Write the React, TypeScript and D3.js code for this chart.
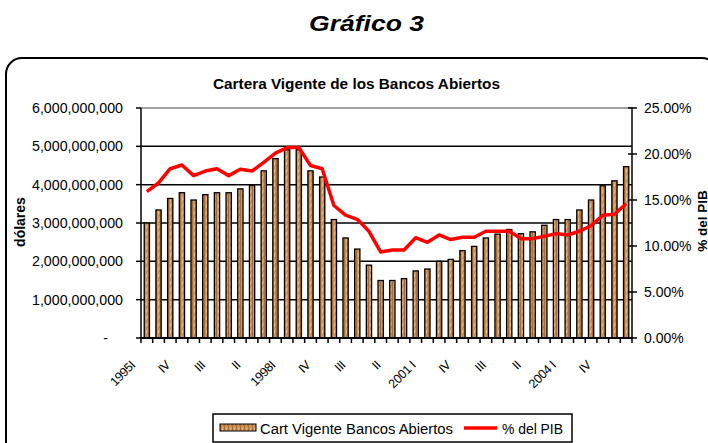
import React, { useEffect, useRef } from 'react';
import * as d3 from 'd3';

const categories = [
  '1995 I', '1995 II', '1995 III', '1995 IV',
  '1996 I', '1996 II', '1996 III', '1996 IV',
  '1997 I', '1997 II', '1997 III', '1997 IV',
  '1998 I', '1998 II', '1998 III', '1998 IV',
  '1999 I', '1999 II', '1999 III', '1999 IV',
  '2000 I', '2000 II', '2000 III', '2000 IV',
  '2001 I', '2001 II', '2001 III', '2001 IV',
  '2002 I', '2002 II', '2002 III', '2002 IV',
  '2003 I', '2003 II', '2003 III', '2003 IV',
  '2004 I', '2004 II', '2004 III', '2004 IV',
  '2005 I', '2005 II',
];

// Labels shown on the x axis (every third quarter)
const tickLabels = ['1995I', 'IV', 'III', 'II', '1998I', 'IV', 'III', 'II', '2001 I', 'IV', 'III', 'II', '2004 I', 'IV'];

// Cartera vigente (dólares)
const carteraValues = [
  3.0e9, 3.34e9, 3.64e9, 3.79e9, 3.6e9, 3.74e9, 3.79e9, 3.79e9, 3.89e9, 3.98e9,
  4.36e9, 4.68e9, 4.91e9, 4.91e9, 4.36e9, 4.2e9, 3.09e9, 2.61e9, 2.32e9, 1.9e9,
  1.5e9, 1.5e9, 1.55e9, 1.75e9, 1.8e9, 2.0e9, 2.05e9, 2.28e9, 2.39e9, 2.61e9,
  2.71e9, 2.83e9, 2.72e9, 2.77e9, 2.94e9, 3.09e9, 3.09e9, 3.34e9, 3.6e9, 3.97e9,
  4.1e9, 4.47e9,
];

// % del PIB
const pibValues = [
  0.159, 0.1685, 0.184, 0.188, 0.1765, 0.1815, 0.184, 0.1765, 0.1835, 0.1815,
  0.191, 0.201, 0.207, 0.207, 0.1875, 0.184, 0.144, 0.1335, 0.129, 0.116,
  0.0935, 0.0957, 0.0957, 0.109, 0.104, 0.112, 0.107, 0.1095, 0.1095, 0.116,
  0.116, 0.116, 0.108, 0.108, 0.1105, 0.1135, 0.112, 0.116, 0.122, 0.1335,
  0.1345, 0.146,
];

const leftTicks = [0, 1e9, 2e9, 3e9, 4e9, 5e9, 6e9];
const rightTicks = [0, 0.05, 0.1, 0.15, 0.2, 0.25];

const FONT = 'Liberation Sans, Arial, Helvetica, sans-serif';

export default function App() {
  const ref = useRef<SVGSVGElement>(null);

  useEffect(() => {
    const svg = d3.select(ref.current);
    svg.selectAll('*').remove();

    const W = 708, H = 443;
    const L = 141, R = 632, T = 108, B = 338;

    const defs = svg.append('defs');
    const pat = defs.append('pattern')
      .attr('id', 'wood')
      .attr('patternUnits', 'userSpaceOnUse')
      .attr('width', 4).attr('height', 7);
    pat.append('rect').attr('width', 4).attr('height', 7).attr('fill', '#cc9459');
    pat.append('rect').attr('x', 0).attr('y', 0).attr('width', 1).attr('height', 7).attr('fill', '#aa6e3a');
    pat.append('rect').attr('x', 2).attr('y', 1).attr('width', 1).attr('height', 4).attr('fill', '#e6b680');
    pat.append('rect').attr('x', 3).attr('y', 4).attr('width', 1).attr('height', 2).attr('fill', '#b87c46');

    svg.append('rect').attr('width', W).attr('height', H).attr('fill', '#ffffff');

    // Main title
    svg.append('text')
      .attr('x', 309).attr('y', 31)
      .attr('font-family', FONT).attr('font-size', 22)
      .attr('font-weight', 'bold').attr('font-style', 'italic')
      .attr('textLength', 115).attr('lengthAdjust', 'spacingAndGlyphs')
      .text('Gráfico 3');

    // Chart border
    svg.append('rect')
      .attr('x', 6).attr('y', 58).attr('width', 712).attr('height', 400)
      .attr('rx', 16).attr('ry', 16)
      .attr('fill', 'none').attr('stroke', '#000').attr('stroke-width', 2);

    // Chart title
    svg.append('text')
      .attr('x', 213).attr('y', 89)
      .attr('font-family', FONT).attr('font-size', 14).attr('font-weight', 'bold')
      .attr('textLength', 287).attr('lengthAdjust', 'spacingAndGlyphs')
      .text('Cartera Vigente de los Bancos Abiertos');

    const x = d3.scaleBand<string>().domain(categories).range([L, R]).paddingInner(0.55).paddingOuter(0.275);
    const yL = d3.scaleLinear().domain([0, 6e9]).range([B, T]);
    const yR = d3.scaleLinear().domain([0, 0.25]).range([B, T]);
    const step = x.step();

    // Gridlines
    svg.append('g').selectAll('line')
      .data(leftTicks.filter(d => d > 0 && d < 6e9))
      .join('line')
      .attr('x1', L).attr('x2', R)
      .attr('y1', d => yL(d)).attr('y2', d => yL(d))
      .attr('stroke', '#000').attr('stroke-width', 1.5);
    svg.append('line')
      .attr('x1', L).attr('x2', R).attr('y1', T).attr('y2', T)
      .attr('stroke', '#808080').attr('stroke-width', 1.5);

    // Bars
    svg.append('g').selectAll('rect')
      .data(carteraValues)
      .join('rect')
      .attr('x', (d, i) => x(categories[i])!)
      .attr('width', x.bandwidth())
      .attr('y', d => yL(d))
      .attr('height', d => B - yL(d))
      .attr('fill', 'url(#wood)')
      .attr('stroke', '#000').attr('stroke-width', 1.3);

    // Line
    const line = d3.line<number>()
      .x((d, i) => x(categories[i])! + x.bandwidth() / 2)
      .y(d => yR(d));
    svg.append('path')
      .datum(pibValues)
      .attr('d', line)
      .attr('fill', 'none')
      .attr('stroke', '#ff0000').attr('stroke-width', 3.5)
      .attr('stroke-linejoin', 'round');

    // Axes lines
    svg.append('line').attr('x1', L).attr('x2', L).attr('y1', T).attr('y2', B + 1)
      .attr('stroke', '#000').attr('stroke-width', 1.5);
    svg.append('line').attr('x1', R).attr('x2', R).attr('y1', T - 1).attr('y2', B + 1)
      .attr('stroke', '#000').attr('stroke-width', 1.5);
    svg.append('line').attr('x1', L - 1).attr('x2', R + 1).attr('y1', B).attr('y2', B)
      .attr('stroke', '#000').attr('stroke-width', 2);

    // Left ticks and labels
    const fmt = d3.format(',');
    svg.append('g').selectAll('line')
      .data(leftTicks).join('line')
      .attr('x1', L - 5).attr('x2', L)
      .attr('y1', d => yL(d)).attr('y2', d => yL(d))
      .attr('stroke', '#000').attr('stroke-width', 1.5);
    const lt = svg.append('g').selectAll('text')
      .data(leftTicks).join('text')
      .attr('x', d => (d === 0 ? 108 : 123))
      .attr('y', d => yL(d) + 5)
      .attr('text-anchor', 'end')
      .attr('font-family', FONT).attr('font-size', 14)
      .text(d => (d === 0 ? '-' : fmt(d)));
    lt.filter(d => d > 0)
      .attr('textLength', 91).attr('lengthAdjust', 'spacingAndGlyphs');

    // Right ticks and labels
    svg.append('g').selectAll('line')
      .data(rightTicks).join('line')
      .attr('x1', R - 4).attr('x2', R + 5)
      .attr('y1', d => yR(d)).attr('y2', d => yR(d))
      .attr('stroke', '#000').attr('stroke-width', 1.5);
    svg.append('g').selectAll('text')
      .data(rightTicks).join('text')
      .attr('x', 644)
      .attr('y', d => yR(d) + 5)
      .attr('text-anchor', 'start')
      .attr('font-family', FONT).attr('font-size', 14)
      .text(d => d3.format('.2%')(d));

    // X ticks (category boundaries)
    svg.append('g').selectAll('line')
      .data(d3.range(categories.length + 1)).join('line')
      .attr('x1', i => L + i * step).attr('x2', i => L + i * step)
      .attr('y1', B).attr('y2', B + 5)
      .attr('stroke', '#000').attr('stroke-width', 1.5);

    // X labels
    svg.append('g').selectAll('text')
      .data(tickLabels).join('text')
      .attr('transform', (d, j) => {
        const cx = x(categories[j * 3])! + x.bandwidth() / 2 - 11;
        return `translate(${cx},${366}) rotate(-45)`;
      })
      .attr('text-anchor', 'end')
      .attr('font-family', FONT).attr('font-size', 12.5)
      .attr('letter-spacing', -0.4)
      .text(d => d);

    // Axis titles
    svg.append('text')
      .attr('transform', 'translate(25,222) rotate(-90)')
      .attr('text-anchor', 'middle')
      .attr('font-family', FONT).attr('font-size', 14).attr('font-weight', 'bold')
      .text('dólares');
    svg.append('text')
      .attr('transform', 'translate(706.5,221) rotate(-90)')
      .attr('text-anchor', 'middle')
      .attr('font-family', FONT).attr('font-size', 13.5).attr('font-weight', 'bold')
      .text('% del PIB');

    // Legend
    const lg = svg.append('g');
    lg.append('rect')
      .attr('x', 213).attr('y', 414).attr('width', 359).attr('height', 28)
      .attr('fill', '#fff').attr('stroke', '#000').attr('stroke-width', 1.5);
    lg.append('rect')
      .attr('x', 220).attr('y', 424).attr('width', 36).attr('height', 7)
      .attr('fill', 'url(#wood)').attr('stroke', '#000').attr('stroke-width', 1);
    lg.append('text')
      .attr('x', 260).attr('y', 433.5)
      .attr('font-family', FONT).attr('font-size', 14)
      .attr('textLength', 193).attr('lengthAdjust', 'spacingAndGlyphs')
      .text('Cart Vigente Bancos Abiertos');
    lg.append('line')
      .attr('x1', 464).attr('x2', 497).attr('y1', 428).attr('y2', 428)
      .attr('stroke', '#ff0000').attr('stroke-width', 3.5);
    lg.append('text')
      .attr('x', 502).attr('y', 433.5)
      .attr('font-family', FONT).attr('font-size', 14)
      .attr('textLength', 61).attr('lengthAdjust', 'spacingAndGlyphs')
      .text('% del PIB');
  }, []);

  return (
    <svg
      ref={ref}
      width={708}
      height={443}
      style={{ position: 'absolute', left: 0, top: 0, display: 'block' }}
    />
  );
}
